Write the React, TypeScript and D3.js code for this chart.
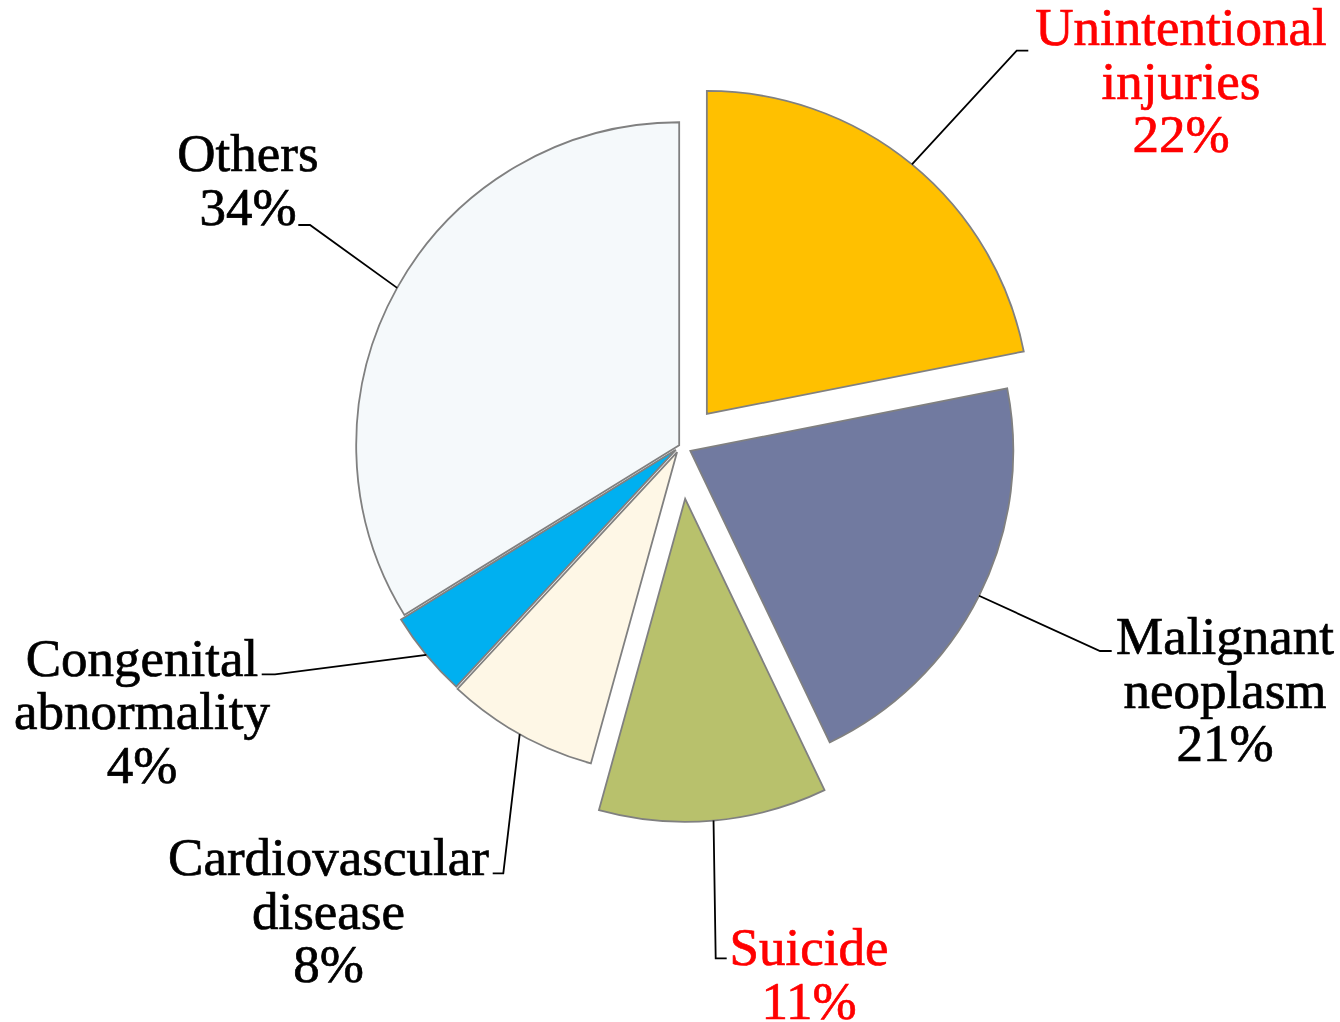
import React from "react";
import * as d3 from "d3";

const categories = [
  "Unintentional injuries",
  "Malignant neoplasm",
  "Suicide",
  "Cardiovascular disease",
  "Congenital abnormality",
  "Others",
];
const values = [21.9, 21.0, 11.4, 7.6, 4.3, 33.8];
const labelLines = [
  ["Unintentional", "injuries"],
  ["Malignant", "neoplasm"],
  ["Suicide"],
  ["Cardiovascular", "disease"],
  ["Congenital", "abnormality"],
  ["Others"],
];
const colors = ["#FFC000", "#717AA0", "#B8C16C", "#FEF7E6", "#00B0F0", "#F5F9FB"];
const labelColors = ["#FF0000", "#000000", "#FF0000", "#000000", "#000000", "#000000"];
const explode = [41.5, 11, 53, 7, 6, 1.5];

// layout (style) constants
const W = 1340;
const H = 1022;
const CX = 680.5;
const CY = 446;
const R = 323;
const LINE_H = 53.5;
// label anchor: x center, first baseline
const labelPos = [
  [1181, 45],
  [1225, 654],
  [809, 965],
  [328.5, 875],
  [142, 675.5],
  [248, 171],
];
// leader elbow and end points
const leaderPts = [
  [[1016.7, 50.7], [1028.3, 50.7]],
  [[1100, 651], [1111.7, 651]],
  [[715.7, 958.3], [726.7, 958.3]],
  [[503.3, 873.3], [492.7, 873.3]],
  [[275, 674.3], [261.7, 674.3]],
  [[310, 225], [298.3, 225]],
];

export default function App() {
  const pie = d3.pie<number>().sort(null).value((d) => d);
  const arcs = pie(values);
  const arcGen = d3.arc<d3.PieArcDatum<number>>().innerRadius(0).outerRadius(R);
  const total = d3.sum(values);

  return (
    <svg
      width={W}
      height={H}
      style={{ position: "absolute", left: 0, top: 0, background: "#fff" }}
    >
      <g transform={`translate(${CX},${CY})`}>
        {arcs.map((a, i) => {
          const mid = (a.startAngle + a.endAngle) / 2;
          const dx = Math.sin(mid) * explode[i];
          const dy = -Math.cos(mid) * explode[i];
          return (
            <path
              key={categories[i]}
              d={arcGen(a) || ""}
              transform={`translate(${dx},${dy})`}
              fill={colors[i]}
              stroke="#808080"
              strokeWidth={1.8}
            />
          );
        })}
      </g>
      {arcs.map((a, i) => {
        const mid = (a.startAngle + a.endAngle) / 2;
        const sx = CX + Math.sin(mid) * (explode[i] + R);
        const sy = CY - Math.cos(mid) * (explode[i] + R);
        const [e1, e2] = leaderPts[i];
        return (
          <polyline
            key={"l" + i}
            points={`${sx},${sy} ${e1[0]},${e1[1]} ${e2[0]},${e2[1]}`}
            fill="none"
            stroke="#000"
            strokeWidth={1.8}
          />
        );
      })}
      {arcs.map((a, i) => {
        const [lx, ly] = labelPos[i];
        const lines = [...labelLines[i], `${Math.round((values[i] / total) * 100)}%`];
        return (
          <text
            key={"t" + i}
            x={lx}
            y={ly}
            textAnchor="middle"
            fontFamily="'Liberation Serif', serif"
            fontSize={53}
            fill={labelColors[i]}
            stroke={labelColors[i]}
            strokeWidth={0.7}
          >
            {lines.map((s, j) => (
              <tspan key={j} x={lx} y={ly + j * LINE_H}>
                {s}
              </tspan>
            ))}
          </text>
        );
      })}
    </svg>
  );
}
